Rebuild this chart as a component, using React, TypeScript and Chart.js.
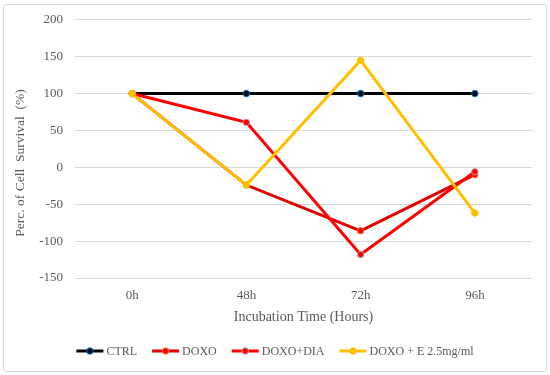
import React, { useEffect, useRef } from "react";
import { Chart, registerables } from "chart.js";

Chart.register(...registerables);

const categories = ["0h", "48h", "72h", "96h"];
const ctrlValues = [100, 100, 100, 100];
const doxoValues = [100, -24, -86, -10];
const doxoDiaValues = [100, 61, -118, -6];
const doxoEValues = [100, -24, 145, -62];
const seriesNames = ["CTRL", "DOXO", "DOXO+DIA", "DOXO + E 2.5mg/ml"];
const yTitle = "Perc. of Cell  Survival  (%)";
const xTitle = "Incubation Time (Hours)";

const FONT = "'Liberation Serif', 'Times New Roman', serif";
const TEXT = "#595959";

const legendPlugin = {
  id: "customLegend",
  afterDraw(chart: any) {
    const ctx = chart.ctx;
    const ds = chart.data.datasets;
    ctx.save();
    // y-axis title
    ctx.font = `13.5px ${FONT}`;
    ctx.fillStyle = TEXT;
    ctx.textAlign = "center";
    ctx.textBaseline = "middle";
    ctx.translate(20, 163);
    ctx.rotate(-Math.PI / 2);
    ctx.fillText(yTitle, 0, 0);
    ctx.setTransform(1, 0, 0, 1, 0, 0);
    // legend
    ctx.font = `12px ${FONT}`;
    const lineLen = 27;
    const gapText = 3;
    const gapItem = 15;
    const widths = ds.map((d: any) => lineLen + gapText + ctx.measureText(d.label).width);
    const total = widths.reduce((a: number, b: number) => a + b, 0) + gapItem * (ds.length - 1);
    let x = (chart.width - total) / 2;
    const y = 351;
    ds.forEach((d: any, i: number) => {
      ctx.strokeStyle = d.borderColor;
      ctx.lineWidth = 3;
      ctx.beginPath();
      ctx.moveTo(x, y);
      ctx.lineTo(x + lineLen, y);
      ctx.stroke();
      ctx.beginPath();
      ctx.arc(x + lineLen / 2, y, 3.2, 0, Math.PI * 2);
      ctx.fillStyle = d.pointBackgroundColor;
      ctx.fill();
      ctx.lineWidth = 1;
      ctx.strokeStyle = d.pointBorderColor;
      ctx.stroke();
      ctx.fillStyle = TEXT;
      ctx.textBaseline = "middle";
      ctx.textAlign = "left";
      ctx.fillText(d.label, x + lineLen + gapText, y + 1);
      x += widths[i] + gapItem;
    });
    ctx.restore();
  },
};

export default function App() {
  const ref = useRef<HTMLCanvasElement>(null);
  useEffect(() => {
    if (!ref.current) return;
    const mk = (label: string, data: number[], color: string, pbg: string, pbc: string, order: number) => ({
      label,
      data,
      borderColor: color,
      backgroundColor: color,
      borderWidth: 3,
      pointRadius: 3.2,
      pointBorderWidth: 1,
      pointBackgroundColor: pbg,
      pointBorderColor: pbc,
      tension: 0,
      order,
    });
    const chart = new Chart(ref.current, {
      type: "line",
      data: {
        labels: categories,
        datasets: [
          mk(seriesNames[0], ctrlValues, "#000000", "#0a0a1a", "#0070C0", 3),
          mk(seriesNames[1], doxoValues, "#e00000", "#ff0000", "#ED7D31", 2),
          mk(seriesNames[2], doxoDiaValues, "#ff0000", "#ff0000", "#A5A5A5", 1),
          mk(seriesNames[3], doxoEValues, "#FFC000", "#FFC000", "#FFC000", 0),
        ],
      },
      options: {
        responsive: false,
        animation: false,
        devicePixelRatio: 1,
        layout: { padding: { left: 0, top: 19, right: 18, bottom: 47 } },
        plugins: { legend: { display: false }, tooltip: { enabled: false } },
        font: { family: FONT },
        scales: {
          x: {
            offset: true,
            grid: { display: false, drawTicks: false },
            border: { display: false },
            ticks: { color: TEXT, font: { family: FONT, size: 13 }, padding: 10 },
            title: { display: true, text: xTitle, color: TEXT, font: { family: FONT, size: 14 }, padding: { top: 0, bottom: 2 } },
            afterFit: (s: any) => { s.height = 50; },
          },
          y: {
            min: -150,
            max: 200,
            ticks: { stepSize: 50, color: TEXT, font: { family: FONT, size: 13 }, padding: 12 },
            grid: { color: "#d9d9d9", lineWidth: 1, drawTicks: false },
            border: { display: false },
            title: { display: false },
            afterFit: (s: any) => { s.width = 75; },
          },
        },
      } as any,
      plugins: [legendPlugin],
    });
    return () => chart.destroy();
  }, []);
  return (
    <div style={{ position: "absolute", left: 0, top: 0, width: 550, height: 375, background: "#fff" }}>
      <canvas ref={ref} width={550} height={375} style={{ position: "absolute", left: 0, top: 0 }} />
      <div style={{ position: "absolute", left: 3, top: 4, width: 542, height: 366, border: "1px solid #d9d9d9", borderRadius: 3, pointerEvents: "none" }} />
    </div>
  );
}
